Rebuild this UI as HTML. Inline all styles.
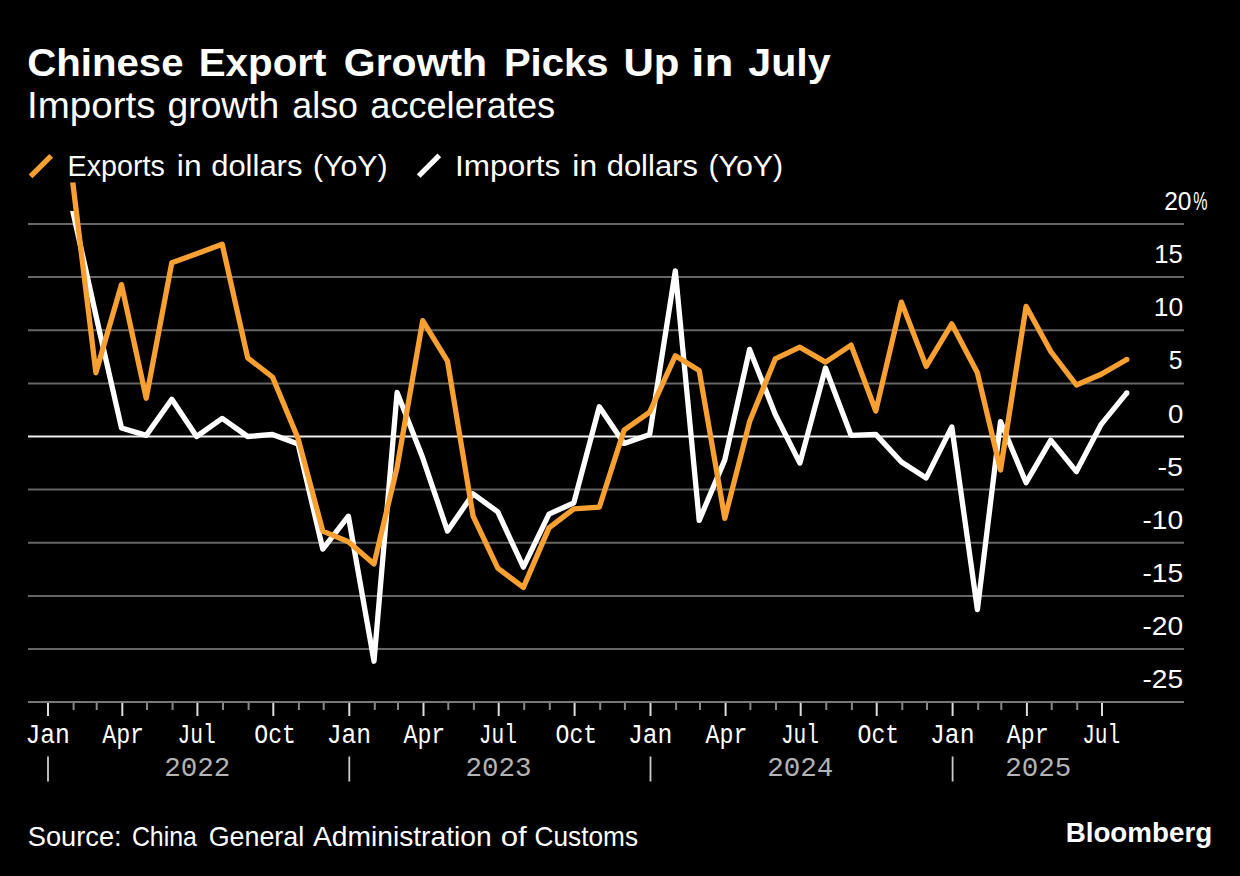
<!DOCTYPE html>
<html><head><meta charset="utf-8"><style>
html,body{margin:0;padding:0;background:#000;overflow:hidden;}
svg{display:block;}
text{font-family:"Liberation Sans",sans-serif;fill:#fff;}
.title{font-weight:bold;font-size:39.4px;}
.sub{font-size:36px;}
.leg{font-size:29.3px;}
.yl{font-size:26.1px;}
.xl{font-family:"Liberation Mono",monospace;font-size:26.8px;}
.yr{font-family:"Liberation Mono",monospace;font-size:27.5px;fill:#b4b4b4;}
.src{font-size:27.2px;}
.logo{font-weight:bold;font-size:28px;}

</style></head><body>
<svg width="1240" height="876" viewBox="0 0 1240 876">
<rect width="1240" height="876" fill="#000"/>
<text x="27.26" y="76.1" class="title" textLength="156.26" lengthAdjust="spacingAndGlyphs">Chinese</text><text x="198.72" y="76.1" class="title" textLength="127.69" lengthAdjust="spacingAndGlyphs">Export</text><text x="343.84" y="76.1" class="title" textLength="143.32" lengthAdjust="spacingAndGlyphs">Growth</text><text x="503.92" y="76.1" class="title" textLength="104.54" lengthAdjust="spacingAndGlyphs">Picks</text><text x="623.46" y="76.1" class="title" textLength="56.04" lengthAdjust="spacingAndGlyphs">Up</text><text x="691.24" y="76.1" class="title" textLength="42.25" lengthAdjust="spacingAndGlyphs">in</text><text x="748.29" y="76.1" class="title" textLength="82.41" lengthAdjust="spacingAndGlyphs">July</text><text x="27.10" y="118" class="sub" textLength="128.34" lengthAdjust="spacingAndGlyphs">Imports</text><text x="167.57" y="118" class="sub" textLength="111.67" lengthAdjust="spacingAndGlyphs">growth</text><text x="292.36" y="118" class="sub" textLength="65.48" lengthAdjust="spacingAndGlyphs">also</text><text x="370.29" y="118" class="sub" textLength="184.82" lengthAdjust="spacingAndGlyphs">accelerates</text><text x="67.54" y="175.5" class="leg" textLength="97.27" lengthAdjust="spacingAndGlyphs">Exports</text><text x="176.89" y="175.5" class="leg" textLength="24.72" lengthAdjust="spacingAndGlyphs">in</text><text x="211.18" y="175.5" class="leg" textLength="91.25" lengthAdjust="spacingAndGlyphs">dollars</text><text x="312.90" y="175.5" class="leg" textLength="74.76" lengthAdjust="spacingAndGlyphs">(YoY)</text><text x="455.09" y="175.5" class="leg" textLength="105.13" lengthAdjust="spacingAndGlyphs">Imports</text><text x="572.39" y="175.5" class="leg" textLength="24.72" lengthAdjust="spacingAndGlyphs">in</text><text x="606.68" y="175.5" class="leg" textLength="91.25" lengthAdjust="spacingAndGlyphs">dollars</text><text x="708.40" y="175.5" class="leg" textLength="74.76" lengthAdjust="spacingAndGlyphs">(YoY)</text>
<line x1="30.6" y1="176.4" x2="51.2" y2="155.8" stroke="#f8a132" stroke-width="5.4"/>
<line x1="418.7" y1="176" x2="439.3" y2="155.4" stroke="#ffffff" stroke-width="5.2"/>
<line x1="28" x2="1184" y1="224.0" y2="224.0" stroke="#666666" stroke-width="2"/><line x1="28" x2="1184" y1="277.1" y2="277.1" stroke="#666666" stroke-width="2"/><line x1="28" x2="1184" y1="330.2" y2="330.2" stroke="#666666" stroke-width="2"/><line x1="28" x2="1184" y1="383.4" y2="383.4" stroke="#666666" stroke-width="2"/><line x1="28" x2="1184" y1="436.5" y2="436.5" stroke="#f0f0f0" stroke-width="2"/><line x1="28" x2="1184" y1="489.6" y2="489.6" stroke="#666666" stroke-width="2"/><line x1="28" x2="1184" y1="542.8" y2="542.8" stroke="#666666" stroke-width="2"/><line x1="28" x2="1184" y1="595.9" y2="595.9" stroke="#666666" stroke-width="2"/><line x1="28" x2="1184" y1="649.0" y2="649.0" stroke="#666666" stroke-width="2"/>
<line x1="28" x2="1184" y1="701.9" y2="701.9" stroke="#777777" stroke-width="2"/>
<line x1="48.0" x2="48.0" y1="702.9" y2="716" stroke="#dddddd" stroke-width="2"/><line x1="73.6" x2="73.6" y1="702.9" y2="710" stroke="#888888" stroke-width="2"/><line x1="96.7" x2="96.7" y1="702.9" y2="710" stroke="#888888" stroke-width="2"/><line x1="122.3" x2="122.3" y1="702.9" y2="716" stroke="#dddddd" stroke-width="2"/><line x1="147.0" x2="147.0" y1="702.9" y2="710" stroke="#888888" stroke-width="2"/><line x1="172.6" x2="172.6" y1="702.9" y2="710" stroke="#888888" stroke-width="2"/><line x1="197.4" x2="197.4" y1="702.9" y2="716" stroke="#dddddd" stroke-width="2"/><line x1="223.0" x2="223.0" y1="702.9" y2="710" stroke="#888888" stroke-width="2"/><line x1="248.6" x2="248.6" y1="702.9" y2="710" stroke="#888888" stroke-width="2"/><line x1="273.3" x2="273.3" y1="702.9" y2="716" stroke="#dddddd" stroke-width="2"/><line x1="298.9" x2="298.9" y1="702.9" y2="710" stroke="#888888" stroke-width="2"/><line x1="323.7" x2="323.7" y1="702.9" y2="710" stroke="#888888" stroke-width="2"/><line x1="349.3" x2="349.3" y1="702.9" y2="716" stroke="#dddddd" stroke-width="2"/><line x1="374.8" x2="374.8" y1="702.9" y2="710" stroke="#888888" stroke-width="2"/><line x1="398.0" x2="398.0" y1="702.9" y2="710" stroke="#888888" stroke-width="2"/><line x1="423.5" x2="423.5" y1="702.9" y2="716" stroke="#dddddd" stroke-width="2"/><line x1="448.3" x2="448.3" y1="702.9" y2="710" stroke="#888888" stroke-width="2"/><line x1="473.9" x2="473.9" y1="702.9" y2="710" stroke="#888888" stroke-width="2"/><line x1="498.7" x2="498.7" y1="702.9" y2="716" stroke="#dddddd" stroke-width="2"/><line x1="524.2" x2="524.2" y1="702.9" y2="710" stroke="#888888" stroke-width="2"/><line x1="549.8" x2="549.8" y1="702.9" y2="710" stroke="#888888" stroke-width="2"/><line x1="574.6" x2="574.6" y1="702.9" y2="716" stroke="#dddddd" stroke-width="2"/><line x1="600.2" x2="600.2" y1="702.9" y2="710" stroke="#888888" stroke-width="2"/><line x1="624.9" x2="624.9" y1="702.9" y2="710" stroke="#888888" stroke-width="2"/><line x1="650.5" x2="650.5" y1="702.9" y2="716" stroke="#dddddd" stroke-width="2"/><line x1="676.1" x2="676.1" y1="702.9" y2="710" stroke="#888888" stroke-width="2"/><line x1="700.0" x2="700.0" y1="702.9" y2="710" stroke="#888888" stroke-width="2"/><line x1="725.6" x2="725.6" y1="702.9" y2="716" stroke="#dddddd" stroke-width="2"/><line x1="750.4" x2="750.4" y1="702.9" y2="710" stroke="#888888" stroke-width="2"/><line x1="776.0" x2="776.0" y1="702.9" y2="710" stroke="#888888" stroke-width="2"/><line x1="800.7" x2="800.7" y1="702.9" y2="716" stroke="#dddddd" stroke-width="2"/><line x1="826.3" x2="826.3" y1="702.9" y2="710" stroke="#888888" stroke-width="2"/><line x1="851.9" x2="851.9" y1="702.9" y2="710" stroke="#888888" stroke-width="2"/><line x1="876.7" x2="876.7" y1="702.9" y2="716" stroke="#dddddd" stroke-width="2"/><line x1="902.3" x2="902.3" y1="702.9" y2="710" stroke="#888888" stroke-width="2"/><line x1="927.0" x2="927.0" y1="702.9" y2="710" stroke="#888888" stroke-width="2"/><line x1="952.6" x2="952.6" y1="702.9" y2="716" stroke="#dddddd" stroke-width="2"/><line x1="978.2" x2="978.2" y1="702.9" y2="710" stroke="#888888" stroke-width="2"/><line x1="1001.3" x2="1001.3" y1="702.9" y2="710" stroke="#888888" stroke-width="2"/><line x1="1026.9" x2="1026.9" y1="702.9" y2="716" stroke="#dddddd" stroke-width="2"/><line x1="1051.7" x2="1051.7" y1="702.9" y2="710" stroke="#888888" stroke-width="2"/><line x1="1077.2" x2="1077.2" y1="702.9" y2="710" stroke="#888888" stroke-width="2"/><line x1="1102.0" x2="1102.0" y1="702.9" y2="716" stroke="#dddddd" stroke-width="2"/>

<line x1="48.0" x2="48.0" y1="756.5" y2="781.5" stroke="#cccccc" stroke-width="1.8"/><line x1="349.3" x2="349.3" y1="756.5" y2="781.5" stroke="#cccccc" stroke-width="1.8"/><line x1="650.5" x2="650.5" y1="756.5" y2="781.5" stroke="#cccccc" stroke-width="1.8"/><line x1="952.6" x2="952.6" y1="756.5" y2="781.5" stroke="#cccccc" stroke-width="1.8"/>
<path d="M72.8,211.1 L72.8,211.2 L95.9,315.4 L121.5,428.0 L146.2,435.4 L171.8,399.3 L196.6,436.5 L222.2,418.4 L247.7,436.5 L272.5,434.4 L298.1,443.9 L322.8,549.1 L348.4,516.2 L374.0,661.2 L397.1,392.4 L422.7,457.8 L447.5,531.1 L473.1,493.9 L497.8,511.9 L523.4,567.2 L549.0,514.1 L573.8,502.9 L599.3,406.8 L624.1,443.4 L649.7,434.4 L675.3,270.8 L699.2,520.4 L724.8,459.9 L749.6,349.4 L775.2,414.2 L799.9,463.1 L825.5,368.0 L851.1,435.4 L875.8,434.4 L901.4,462.0 L926.2,477.9 L951.8,426.9 L977.4,609.7 L1000.5,421.6 L1026.1,482.7 L1050.8,440.2 L1076.4,471.6 L1101.2,424.3 L1126.8,392.9" fill="none" stroke="#ffffff" stroke-width="5.3" stroke-linejoin="round" stroke-linecap="butt"/>
<circle cx="1126.8" cy="392.9" r="2.65" fill="#ffffff"/>
<path d="M72.8,182.4 L72.8,182.6 L95.9,372.8 L121.5,284.6 L146.2,398.2 L171.8,262.8 L196.6,253.8 L222.2,244.2 L247.7,357.9 L272.5,377.0 L298.1,438.6 L322.8,531.1 L348.4,541.7 L374.0,564.0 L397.1,467.3 L422.7,320.7 L447.5,361.1 L473.1,516.2 L497.8,568.2 L523.4,587.4 L549.0,527.9 L573.8,508.8 L599.3,507.2 L624.1,430.1 L649.7,412.1 L675.3,355.8 L699.2,370.6 L724.8,518.3 L749.6,421.6 L775.2,358.9 L799.9,347.2 L825.5,362.1 L851.1,345.1 L875.8,411.0 L901.4,302.1 L926.2,366.4 L951.8,323.9 L977.4,372.8 L1000.5,470.0 L1026.1,306.3 L1050.8,351.5 L1076.4,385.0 L1101.2,374.3 L1126.8,359.5" fill="none" stroke="#f8a132" stroke-width="5.3" stroke-linejoin="round" stroke-linecap="butt"/>
<circle cx="1126.8" cy="359.5" r="2.65" fill="#f8a132"/>
<text x="27.86" y="845.6" class="src" textLength="93.73" lengthAdjust="spacingAndGlyphs">Source:</text><text x="131.89" y="845.6" class="src" textLength="65.00" lengthAdjust="spacingAndGlyphs">China</text><text x="208.67" y="845.6" class="src" textLength="95.48" lengthAdjust="spacingAndGlyphs">General</text><text x="312.90" y="845.6" class="src" textLength="178.81" lengthAdjust="spacingAndGlyphs">Administration</text><text x="500.76" y="845.6" class="src" textLength="26.04" lengthAdjust="spacingAndGlyphs">of</text><text x="534.58" y="845.6" class="src" textLength="103.45" lengthAdjust="spacingAndGlyphs">Customs</text><text x="1065.65" y="841.6" class="logo" textLength="146.50" lengthAdjust="spacingAndGlyphs">Bloomberg</text><text x="25.41" y="742.5" class="xl" textLength="44.55" lengthAdjust="spacingAndGlyphs">Jan</text><text x="102.18" y="742.5" class="xl" textLength="41.90" lengthAdjust="spacingAndGlyphs">Apr</text><text x="177.54" y="742.5" class="xl" textLength="38.19" lengthAdjust="spacingAndGlyphs">Jul</text><text x="254.24" y="742.5" class="xl" textLength="41.69" lengthAdjust="spacingAndGlyphs">Oct</text><text x="326.67" y="742.5" class="xl" textLength="44.55" lengthAdjust="spacingAndGlyphs">Jan</text><text x="403.44" y="742.5" class="xl" textLength="41.90" lengthAdjust="spacingAndGlyphs">Apr</text><text x="478.80" y="742.5" class="xl" textLength="38.19" lengthAdjust="spacingAndGlyphs">Jul</text><text x="555.50" y="742.5" class="xl" textLength="41.69" lengthAdjust="spacingAndGlyphs">Oct</text><text x="627.93" y="742.5" class="xl" textLength="44.55" lengthAdjust="spacingAndGlyphs">Jan</text><text x="705.53" y="742.5" class="xl" textLength="41.89" lengthAdjust="spacingAndGlyphs">Apr</text><text x="780.89" y="742.5" class="xl" textLength="38.19" lengthAdjust="spacingAndGlyphs">Jul</text><text x="857.58" y="742.5" class="xl" textLength="41.69" lengthAdjust="spacingAndGlyphs">Oct</text><text x="930.01" y="742.5" class="xl" textLength="44.55" lengthAdjust="spacingAndGlyphs">Jan</text><text x="1006.79" y="742.5" class="xl" textLength="41.89" lengthAdjust="spacingAndGlyphs">Apr</text><text x="1082.15" y="742.5" class="xl" textLength="38.19" lengthAdjust="spacingAndGlyphs">Jul</text><text x="164.32" y="775.8" class="yr" textLength="66.00" lengthAdjust="spacingAndGlyphs">2022</text><text x="465.58" y="775.8" class="yr" textLength="66.00" lengthAdjust="spacingAndGlyphs">2023</text><text x="767.25" y="775.8" class="yr" textLength="66.00" lengthAdjust="spacingAndGlyphs">2024</text><text x="1005.37" y="775.8" class="yr" textLength="66.00" lengthAdjust="spacingAndGlyphs">2025</text><text x="1164.13" y="210.1" class="yl" textLength="27.31" lengthAdjust="spacingAndGlyphs">20</text><text x="1154.27" y="263.23" class="yl" textLength="28.49" lengthAdjust="spacingAndGlyphs">15</text><text x="1153.84" y="316.35" class="yl" textLength="29.39" lengthAdjust="spacingAndGlyphs">10</text><text x="1168.68" y="369.48" class="yl" textLength="13.75" lengthAdjust="spacingAndGlyphs">5</text><text x="1167.92" y="422.6" class="yl" textLength="15.36" lengthAdjust="spacingAndGlyphs">0</text><text x="1157.52" y="475.73" class="yl" textLength="25.53" lengthAdjust="spacingAndGlyphs">-5</text><text x="1142.45" y="528.85" class="yl" textLength="40.69" lengthAdjust="spacingAndGlyphs">-10</text><text x="1142.45" y="581.98" class="yl" textLength="40.69" lengthAdjust="spacingAndGlyphs">-15</text><text x="1142.45" y="635.1" class="yl" textLength="40.69" lengthAdjust="spacingAndGlyphs">-20</text><text x="1142.45" y="688.23" class="yl" textLength="40.69" lengthAdjust="spacingAndGlyphs">-25</text><text x="1193.30" y="210.1" class="yl" textLength="14.23" lengthAdjust="spacingAndGlyphs">%</text>
</svg>
</body></html>
